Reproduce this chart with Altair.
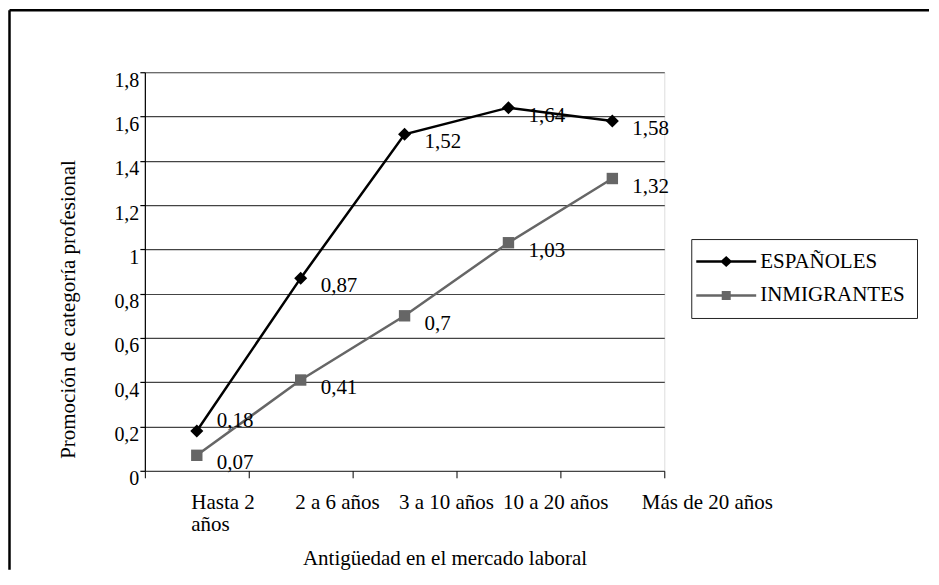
import altair as alt
import pandas as pd

categorias = ["Hasta 2 años", "2 a 6 años", "3 a 10 años", "10 a 20 años", "Más de 20 años"]
series = ["ESPAÑOLES", "INMIGRANTES"]
espanoles = [0.18, 0.87, 1.52, 1.64, 1.58]
inmigrantes = [0.07, 0.41, 0.70, 1.03, 1.32]
y_ticks = [0, 0.2, 0.4, 0.6, 0.8, 1.0, 1.2, 1.4, 1.6, 1.8]

rows = []
for s, vals in zip(series, [espanoles, inmigrantes]):
    for c, v in zip(categorias, vals):
        rows.append({"cat": c, "serie": s, "valor": v})
df = pd.DataFrame(rows)

FONT = "Liberation Serif"
W, H = 520, 399
colores = ["#000000", "#666666"]

# legend symbols: line segment + marker (custom SVG paths)
sym_diamond = "M-6,-0.24H6V0.24H-6Z M0,-1.1L1.2,0L0,1.1L-1.2,0Z"
sym_square = "M-6,-0.24H6V0.24H-6Z M-0.9,-0.9H0.9V0.9H-0.9Z"

x_enc = alt.X(
    "cat:N", sort=categorias, bandPosition=0.5,
    scale=alt.Scale(type="band", paddingInner=0, paddingOuter=0),
    axis=alt.Axis(
        title="Antigüedad en el mercado laboral",
        domain=False, grid=False, tickBand="extent", tickSize=7,
        tickColor="black", tickWidth=1, labelAngle=0, labelAlign="left",
        labelBaseline="top",
        labelOffset={"condition": {"test": "datum.value == 'Más de 20 años'", "value": 29}, "value": -6},
        labelExpr="datum.value == 'Hasta 2 años' ? ['Hasta 2', 'años'] : datum.label",
        labelLineHeight=22, labelPadding=14, labelFontSize=21, labelFont=FONT,
        labelColor="black",
        titleX=300, titleY=94, titleBaseline="alphabetic", titleAlign="center",
        titleFont=FONT, titleFontSize=21, titleFontWeight="normal", titleColor="black",
    ),
)

y_enc = alt.Y(
    "valor:Q", scale=alt.Scale(domain=[0, 1.8], nice=False, zero=True),
    axis=alt.Axis(
        title="Promoción de categoría profesional", values=y_ticks,
        labelExpr="replace(format(datum.value, '.1~f'), '.', ',')",
        grid=True, gridColor="#444444", gridWidth=1.2,
        domain=True, domainColor="black", domainWidth=1.2,
        tickSize=5, tickColor="black", tickWidth=1.2, labelPadding=1, labelOffset=8,
        labelFontSize=20, labelFont=FONT, labelColor="black",
        titleX=-70, titleY=237, titleBaseline="alphabetic", titleAlign="center",
        titleAngle=270,
        titleFont=FONT, titleFontSize=21, titleFontWeight="normal", titleColor="black",
    ),
)

base = alt.Chart(df)

color_nolegend = alt.Color("serie:N", scale=alt.Scale(domain=series, range=colores), legend=None)

lines = base.mark_line(strokeWidth=2.5).encode(x=x_enc, y=y_enc, color=color_nolegend)

points = base.mark_point(filled=True, opacity=1).encode(
    x=x_enc, y=y_enc, color=color_nolegend,
    shape=alt.Shape("serie:N", scale=alt.Scale(domain=series, range=["diamond", "square"]), legend=None),
    size=alt.Size("serie:N", scale=alt.Scale(domain=series, range=[170, 130]), legend=None),
)

label_calc = "replace(format(datum.valor, '.2~f'), '.', ',')"

labels = base.transform_calculate(lab=label_calc).transform_filter(
    "!(datum.serie == 'ESPAÑOLES' && datum.cat == 'Hasta 2 años')"
).mark_text(align="left", baseline="middle", dx=20, dy=8, font=FONT, fontSize=21, color="black").encode(
    x=x_enc, y=y_enc, text="lab:N"
)

label_first = base.transform_calculate(lab=label_calc).transform_filter(
    "datum.serie == 'ESPAÑOLES' && datum.cat == 'Hasta 2 años'"
).mark_text(align="left", baseline="middle", dx=20, dy=-10, font=FONT, fontSize=21, color="black").encode(
    x=x_enc, y=y_enc, text="lab:N"
)

legend_layer = base.mark_point(filled=True, opacity=0).encode(
    x=x_enc, y=y_enc,
    color=alt.Color("serie:N", scale=alt.Scale(domain=series, range=colores),
                    legend=alt.Legend(title=None)),
    shape=alt.Shape(
        "serie:N", scale=alt.Scale(domain=series, range=[sym_diamond, sym_square]),
        legend=alt.Legend(
            title=None, orient="none", legendX=547, legendY=167,
            strokeColor="#222222", fillColor="white", padding=12,
            labelFont=FONT, labelFontSize=21, labelColor="black", labelOffset=23.5,
            symbolSize=100, symbolOpacity=1, symbolStrokeWidth=0, symbolOffset=12.5,
            rowPadding=12,
        ),
    ),
)

frame_df = pd.DataFrame({"k": [0]})
frame_top = alt.Chart(frame_df).mark_rule(color="black", strokeWidth=2.5).encode(
    x=alt.value(-135.5), x2=alt.value(785), y=alt.value(-62)
)
frame_left = alt.Chart(frame_df).mark_rule(color="black", strokeWidth=2.5).encode(
    x=alt.value(-135.5), y=alt.value(-62), y2=alt.value(498)
)

chart = alt.layer(
    lines, points, labels, label_first, legend_layer, frame_top, frame_left
).resolve_scale(
    shape="independent", color="independent", size="independent"
).properties(
    width=W, height=H, padding=0
).configure_view(stroke=None).configure(font=FONT)

chart.save("out.html", embed_options={"renderer": "svg", "actions": False})
